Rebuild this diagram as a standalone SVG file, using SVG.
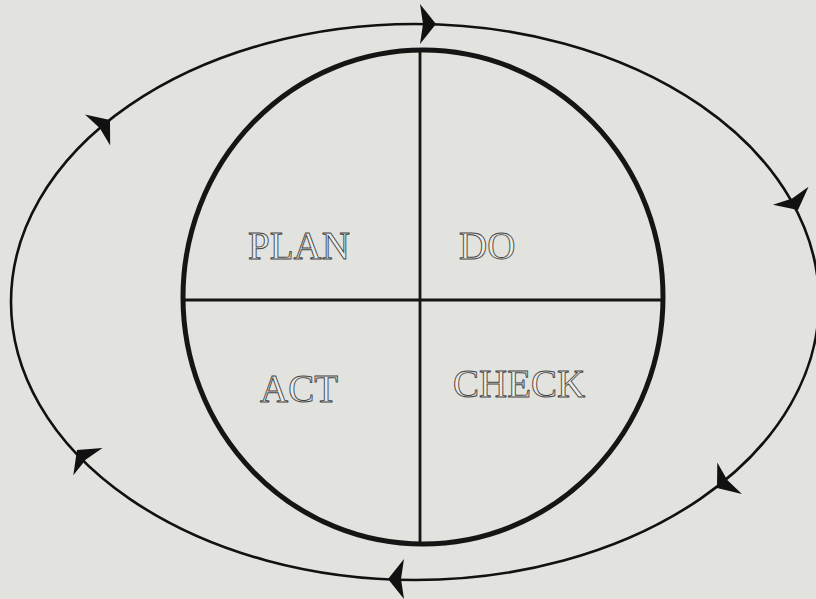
<svg xmlns="http://www.w3.org/2000/svg" width="816" height="599" viewBox="0 0 816 599">
<style>
.bg{fill:#e2e2de}
.outer{fill:none;stroke:#111;stroke-width:2.6}
.inner{fill:none;stroke:#151515;stroke-width:5}
.div{stroke:#151515;stroke-width:2.8}
.lbl{font-family:"Liberation Serif","Times New Roman",serif;font-size:39px;fill:#ecece8;stroke:#444;stroke-width:0.9}
.ah{fill:#111}
</style>
<defs>
<polygon id="head" points="0,0 -16,-20 -13,0 -16,20"/>
</defs>
<rect class="bg" x="0" y="0" width="816" height="599"/>
<g id="connectors">
<ellipse class="outer" cx="415" cy="302" rx="404" ry="278"/>
<use href="#head" class="ah" transform="translate(436,24) rotate(0)"/>
<use href="#head" class="ah" transform="translate(798,210) rotate(63)"/>
<use href="#head" class="ah" transform="translate(717,488) rotate(142)"/>
<use href="#head" class="ah" transform="translate(388,579) rotate(180)"/>
<use href="#head" class="ah" transform="translate(77,450) rotate(-133)"/>
<use href="#head" class="ah" transform="translate(110,120) rotate(-39)"/>
</g>
<g id="cycle">
<ellipse class="inner" cx="423" cy="297" rx="240" ry="247"/>
<line class="div" x1="420" y1="50" x2="420" y2="544"/>
<line class="div" x1="183" y1="300" x2="663" y2="300"/>
</g>
<g id="plan"><text class="lbl" x="248" y="259">PLAN</text></g>
<g id="do"><text class="lbl" x="459" y="259">DO</text></g>
<g id="act"><text class="lbl" x="260" y="402">ACT</text></g>
<g id="check"><text class="lbl" x="453" y="397">CHECK</text></g>
</svg>
